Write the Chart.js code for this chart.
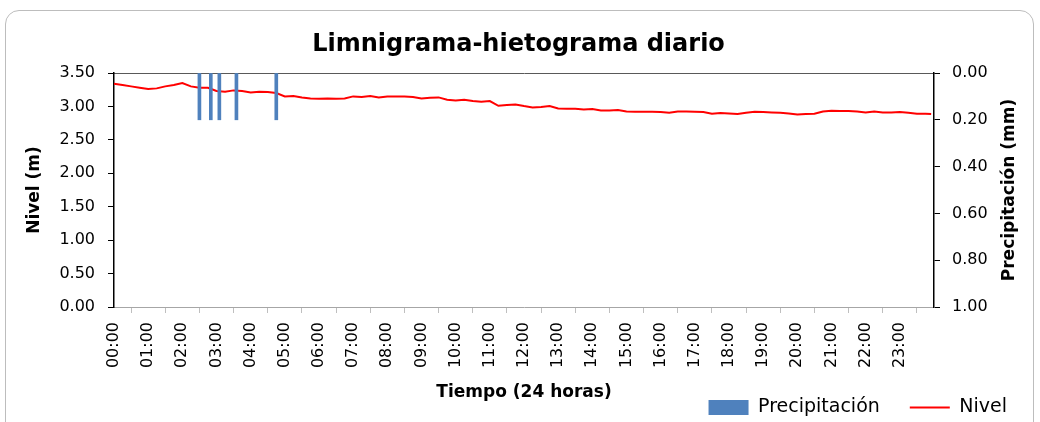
<!DOCTYPE html>
<html>
<head>
<meta charset="utf-8">
<script src="https://cdn.jsdelivr.net/npm/chart.js@4.4.1/dist/chart.umd.min.js"></script>
<style>
  html, body { margin: 0; padding: 0; background: #fff; overflow: hidden; }
  #marco {
    position: absolute; left: 5px; top: 10px; width: 1029px; height: 440px;
    border: 1px solid #bdbdbd; border-radius: 14px; box-sizing: border-box;
  }
  #grafico { position: absolute; left: 0; top: 0; z-index: 1; }
</style>
</head>
<body>
<div id="marco"></div>
<canvas id="grafico" width="1040" height="422"></canvas>
<script>
// etiquetas del eje horizontal
var horas = ['00:00', '01:00', '02:00', '03:00', '04:00', '05:00', '06:00', '07:00',
             '08:00', '09:00', '10:00', '11:00', '12:00', '13:00', '14:00', '15:00',
             '16:00', '17:00', '18:00', '19:00', '20:00', '21:00', '22:00', '23:00'];

// lecturas del limnigrafo (cada 15 min)
var tiempoNivel = [
  '00:00', '00:15', '00:30', '00:45', '01:00', '01:15', '01:30', '01:45',
  '02:00', '02:15', '02:30', '02:45', '03:00', '03:15', '03:30', '03:45',
  '04:00', '04:15', '04:30', '04:45', '05:00', '05:15', '05:30', '05:45',
  '06:00', '06:15', '06:30', '06:45', '07:00', '07:15', '07:30', '07:45',
  '08:00', '08:15', '08:30', '08:45', '09:00', '09:15', '09:30', '09:45',
  '10:00', '10:15', '10:30', '10:45', '11:00', '11:15', '11:30', '11:45',
  '12:00', '12:15', '12:30', '12:45', '13:00', '13:15', '13:30', '13:45',
  '14:00', '14:15', '14:30', '14:45', '15:00', '15:15', '15:30', '15:45',
  '16:00', '16:15', '16:30', '16:45', '17:00', '17:15', '17:30', '17:45',
  '18:00', '18:15', '18:30', '18:45', '19:00', '19:15', '19:30', '19:45',
  '20:00', '20:15', '20:30', '20:45', '21:00', '21:15', '21:30', '21:45',
  '22:00', '22:15', '22:30', '22:45', '23:00', '23:15', '23:30', '23:45',
  '23:55'
];
var nivel = [
  3.34, 3.32, 3.30, 3.28, 3.26, 3.27, 3.30, 3.32,
  3.35, 3.30, 3.28, 3.28, 3.23, 3.22, 3.24, 3.23,
  3.21, 3.22, 3.215, 3.20, 3.15, 3.155, 3.135, 3.12,
  3.115, 3.12, 3.115, 3.12, 3.15, 3.14, 3.155, 3.135,
  3.15, 3.15, 3.15, 3.14, 3.12, 3.13, 3.135, 3.10,
  3.09, 3.10, 3.08, 3.07, 3.08, 3.01, 3.02, 3.03,
  3.005, 2.985, 2.99, 3.005, 2.97, 2.965, 2.965, 2.955,
  2.96, 2.94, 2.94, 2.945, 2.925, 2.92, 2.92, 2.92,
  2.917, 2.906, 2.925, 2.925, 2.92, 2.915, 2.89, 2.90,
  2.895, 2.887, 2.905, 2.92, 2.915, 2.91, 2.905, 2.895,
  2.88, 2.885, 2.89, 2.925, 2.935, 2.93, 2.93, 2.925,
  2.91, 2.925, 2.91, 2.91, 2.915, 2.905, 2.89, 2.89,
  2.885
];

// precipitacion registrada
var tiempoLluvia = ['02:30', '02:50', '03:05', '03:35', '04:45'];
var lluvia = [0.2, 0.2, 0.2, 0.2, 0.2];

var nivelTicks = [0, 3.5, 0.5];
var lluviaTicks = [0, 1, 0.2];

function aMinutos(h) {
  var p = h.split(':');
  return parseInt(p[0], 10) * 60 + parseInt(p[1], 10);
}

function puntos(tiempos, valores) {
  var out = [];
  for (var i = 0; i < tiempos.length; i++) {
    out.push({ x: aMinutos(tiempos[i]), y: valores[i] });
  }
  return out;
}

Chart.defaults.font.family = '"DejaVu Sans", sans-serif';
Chart.defaults.color = '#000';

var tituloDerecho = {
  id: 'tituloDerecho',
  afterDraw: function(chart) {
    var ctx = chart.ctx, a = chart.chartArea;
    ctx.save();
    ctx.translate(a.right + 76, (a.top + a.bottom) / 2);
    ctx.rotate(-Math.PI / 2);
    ctx.font = 'bold 17px "DejaVu Sans"';
    ctx.fillStyle = '#000';
    ctx.textAlign = 'center';
    ctx.textBaseline = 'middle';
    ctx.fillText('Precipitación (mm)', 0, 0);
    ctx.restore();
  }
};

new Chart(document.getElementById('grafico'), {
  type: 'line',
  data: {
    datasets: [{
      type: 'bar',
      label: 'Precipitación',
      data: puntos(tiempoLluvia, lluvia),
      xAxisID: 'x',
      yAxisID: 'y2',
      backgroundColor: '#4f81bd',
      borderWidth: 0,
      barThickness: 3
    }, {
      type: 'line',
      label: 'Nivel',
      data: puntos(tiempoNivel, nivel),
      xAxisID: 'x',
      yAxisID: 'y',
      borderColor: '#ff0000',
      backgroundColor: '#ff0000',
      borderWidth: 2,
      pointRadius: 0,
      tension: 0
    }]
  },
  options: {
    responsive: false,
    animation: false,
    layout: { padding: { left: 0, right: 3, top: 0, bottom: -5 } },
    plugins: {
      tooltip: { enabled: false },
      title: {
        display: true,
        text: 'Limnigrama-hietograma diario',
        font: { size: 24, weight: 'bold' },
        color: '#000',
        padding: { top: 30, bottom: 14.2 }
      },
      legend: {
        position: 'bottom',
        align: 'end',
        labels: {
          font: { size: 19 },
          usePointStyle: true,
          pointStyleWidth: 40,
          boxHeight: 15,
          padding: 30,
          color: '#000',
          generateLabels: function(chart) {
            var items = Chart.defaults.plugins.legend.labels.generateLabels(chart);
            items.forEach(function(it) {
              it.pointStyle = it.datasetIndex === 0 ? 'rect' : 'line';
            });
            return items;
          }
        }
      }
    },
    scales: {
      x: {
        type: 'linear',
        position: 'bottom',
        min: 0,
        max: 1440,
        offset: false,
        afterFit: function(s) { s.height = 61; },
        ticks: {
          stepSize: 60,
          autoSkip: false,
          maxRotation: 90,
          minRotation: 90,
          padding: 9,
          font: { size: 16 },
          color: '#000',
          callback: function(v, i) { return horas[i] || ''; }
        },
        grid: { drawOnChartArea: false, drawTicks: true, tickLength: 6, color: '#bfbfbf' },
        border: { color: '#a6a6a6', width: 1 },
        title: {
          display: true,
          text: 'Tiempo (24 horas)',
          font: { size: 17, weight: 'bold' },
          color: '#000',
          padding: { top: 0, bottom: -35 }
        }
      },
      x2: {
        type: 'linear',
        position: 'top',
        min: 0,
        max: 1440,
        display: true,
        afterFit: function(s) { s.height = 0; },
        ticks: { display: false },
        grid: { display: false },
        border: { display: true, color: '#595959', width: 1 }
      },
      y: {
        position: 'left',
        min: nivelTicks[0],
        max: nivelTicks[1],
        afterFit: function(s) { s.width = 114; },
        ticks: {
          stepSize: nivelTicks[2],
          padding: 13,
          font: { size: 16 },
          color: '#000',
          callback: function(v) { return v.toFixed(2); }
        },
        grid: { drawOnChartArea: false, tickLength: 6, color: '#000' },
        border: { color: '#000', width: 1.5 },
        title: {
          display: true,
          text: 'Nivel (m)',
          font: { size: 17, weight: 'bold' },
          color: '#000',
          padding: { top: 24 }
        }
      },
      y2: {
        position: 'right',
        min: lluviaTicks[0],
        max: lluviaTicks[1],
        reverse: true,
        afterFit: function(s) { s.width = 103; },
        ticks: {
          stepSize: lluviaTicks[2],
          padding: 12,
          font: { size: 16 },
          color: '#000',
          callback: function(v) { return v.toFixed(2); }
        },
        grid: { drawOnChartArea: false, tickLength: 6, color: '#000' },
        border: { color: '#000', width: 1.5 }
      }
    }
  },
  plugins: [tituloDerecho]
});
</script>
</body>
</html>
